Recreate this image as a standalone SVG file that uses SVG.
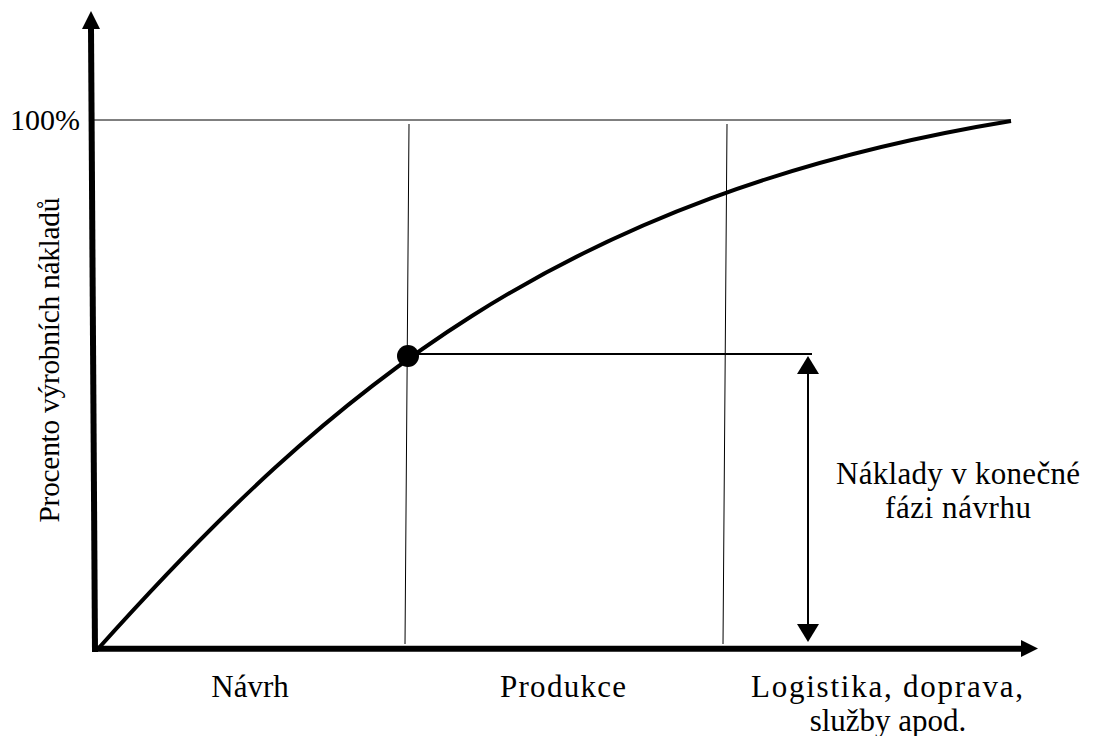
<svg xmlns="http://www.w3.org/2000/svg" width="1093" height="736" viewBox="0 0 1093 736">
  <style>
    .txt { font-family: "Liberation Serif", "Times New Roman", serif; font-size: 31px; fill: #000; text-anchor: middle; }
    .axis { stroke: #000; stroke-width: 6; fill: none; }
    .thin { stroke: #000; stroke-width: 1; fill: none; }
    .guide { stroke: #000; stroke-width: 2; fill: none; }
  </style>

  <!-- axes -->
  <g id="axes">
    <path class="axis" d="M95,652 L91,28"/>
    <path d="M91,11 L100,29 L82,29 z" fill="#000"/>
    <path class="axis" d="M92,648.7 L1022,648.7"/>
    <path d="M1038,648.5 L1021,640 L1021,657 z" fill="#000"/>
  </g>

  <!-- reference lines -->
  <g id="guides">
    <path class="thin" d="M94,120 L1011,120" stroke="#555"/>
    <path class="thin" d="M409,124 L405,644"/>
    <path class="thin" d="M727,124 L723,644"/>
  </g>

  <!-- cost curve -->
  <g id="curve">
    <path d="M97,650 C330,390 560,195 1011,121" fill="none" stroke="#000" stroke-width="4"/>
  </g>

  <!-- point on curve and its level -->
  <g id="point">
    <path class="guide" d="M408,354 L812,354"/>
    <circle cx="408" cy="356" r="11" fill="#000"/>
  </g>

  <!-- dimension arrow -->
  <g id="connectors">
    <path class="guide" d="M808,372 L808,625"/>
    <path d="M808,356 L797,374 L819,374 z" fill="#000"/>
    <path d="M808,642 L797,624 L819,624 z" fill="#000"/>
  </g>

  <!-- labels -->
  <g id="labels">
    <text class="txt" x="45" y="130" style="font-size:30px" textLength="70" lengthAdjust="spacingAndGlyphs">100%</text>
    <text class="txt" transform="translate(59,360) rotate(-90)" style="font-size:29.5px" textLength="325" lengthAdjust="spacing">Procento výrobních nákladů</text>
    <text class="txt" x="250" y="697">Návrh</text>
    <text class="txt" x="563" y="697" textLength="126" lengthAdjust="spacing">Produkce</text>
    <text class="txt" x="887" y="697" textLength="272" lengthAdjust="spacing">Logistika, doprava,</text>
    <text class="txt" x="888" y="731">služby apod.</text>
    <text class="txt" x="958" y="484" textLength="244" lengthAdjust="spacing">Náklady v konečné</text>
    <text class="txt" x="958" y="518" textLength="146" lengthAdjust="spacing">fázi návrhu</text>
  </g>
</svg>
